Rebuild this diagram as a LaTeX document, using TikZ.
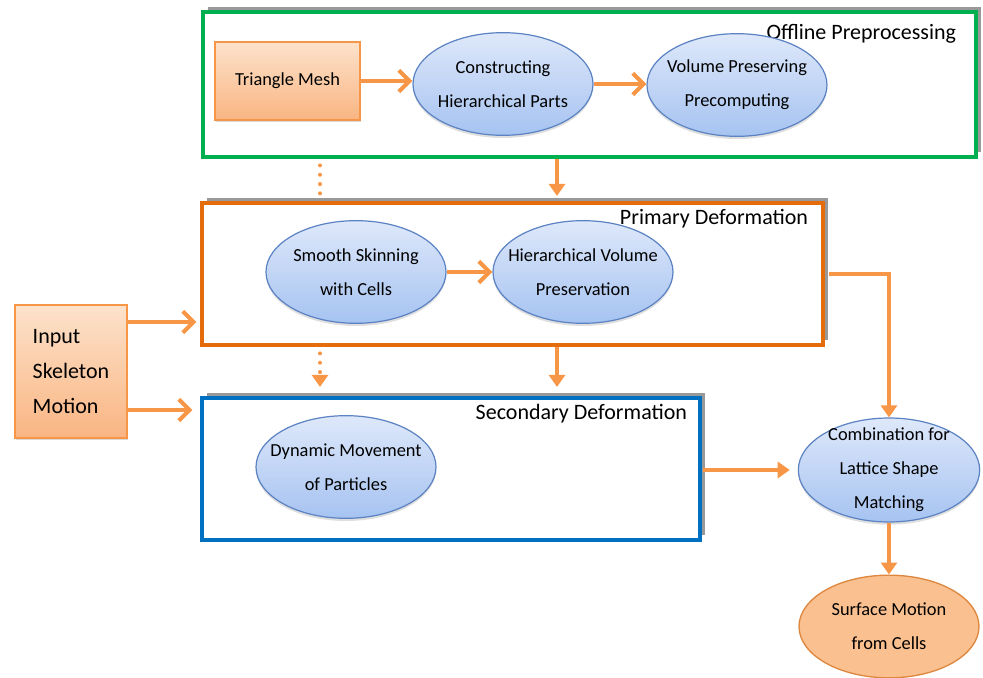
\documentclass[tikz,border=0pt]{standalone}
\usepackage{fontspec}
\setmainfont{Carlito}
\usetikzlibrary{arrows.meta,shapes.geometric,shadows}
\definecolor{flowor}{HTML}{F79646}
\definecolor{offgreen}{HTML}{00B050}
\definecolor{primor}{HTML}{E46C0A}
\definecolor{secblue}{HTML}{0070C0}
\definecolor{elltop}{HTML}{DEE8FA}
\definecolor{ellbot}{HTML}{A6C3F1}
\definecolor{ellrim}{HTML}{5B82C2}
\definecolor{rectop}{HTML}{FDE2CB}
\definecolor{recbot}{HTML}{F9B582}
\tikzset{
  flow/.style={x=0.75pt, y=-0.75pt, line width=3pt, color=flowor},
  stagebox/.style={rectangle, draw, line width=2.6pt, fill=white, inner sep=0pt,
    drop shadow={shadow xshift=3.6pt, shadow yshift=3.6pt, fill=black!40, opacity=1}},
  stagetitle/.style={font=\fontsize{16.5}{20}\selectfont, text=black, anchor=north east, inner sep=0pt},
  phase/.style={ellipse, draw=ellrim, line width=0.9pt, top color=elltop, bottom color=ellbot,
    minimum width=135pt, minimum height=77pt, inner sep=0pt,
    drop shadow={shadow xshift=0pt, shadow yshift=-2pt, opacity=0.25}},
  phasetext/.style={font=\fontsize{13.8}{25.5}\selectfont, text=black, align=center, inner sep=0pt},
  datbox/.style={rectangle, draw=flowor, line width=1.2pt, top color=rectop, bottom color=recbot,
    drop shadow={shadow xshift=1pt, shadow yshift=-1.5pt, opacity=0.3}},
  barb/.style={-{Straight Barb[length=8pt, width=16pt, line width=3pt]}},
  tri/.style={-{Triangle[length=9pt, width=12pt]}},
  dotline/.style={line cap=round, dash pattern=on 0pt off 7pt},
}
\begin{document}
\begin{tikzpicture}[flow]
  \useasboundingbox (0,0) rectangle (983,678);
  % the three stages
  \node[stagebox, draw=offgreen, minimum width=579.75pt, minimum height=108.75pt] (off) at (589.5,84.5) {};
  \node[stagebox, draw=primor, minimum width=465.75pt, minimum height=106.5pt] (prim) at (512.5,274) {};
  \node[stagebox, draw=secblue, minimum width=373.5pt, minimum height=106.5pt] (sec) at (451,469) {};
  \node[stagetitle] (offtitle) at (958,22) {Offline Preprocessing};
  \node[stagetitle] (primtitle) at (810,207) {Primary Deformation};
  \node[stagetitle] (sectitle) at (689,402) {Secondary Deformation};
  % offline preprocessing
  \node[datbox, minimum width=108.75pt, minimum height=58.5pt, font=\fontsize{13.8}{16}\selectfont, text=black] (mesh) at (287.5,81) {Triangle Mesh};
  \node[phase] (chp) at (503,84) {};
  \node[phasetext] at (chp) {Constructing\\Hierarchical Parts};
  \node[phase] (vpp) at (737,85) {};
  \node[phasetext] at (vpp) {Volume Preserving\\Precomputing};
  % primary deformation
  \node[phase] (ssc) at (356,272) {};
  \node[phasetext] at (ssc) {Smooth Skinning\\with Cells};
  \node[phase] (hvp) at (583,272) {};
  \node[phasetext] at (hvp) {Hierarchical Volume\\Preservation};
  % secondary deformation
  \node[phase] (dmp) at (346,467) {};
  \node[phasetext] at (dmp) {Dynamic Movement\\of Particles};
  % input and output
  \node[datbox, minimum width=84pt, minimum height=99.75pt, align=left, text=black,
    font=\fontsize{16.5}{26}\selectfont] (inp) at (71,371.5) {Input\\Skeleton\\Motion};
  \node[phase, minimum width=136pt, minimum height=78pt] (comb) at (889,470) {};
  \node[phasetext] at (comb) {Combination for\\Lattice Shape\\Matching};
  \node[ellipse, draw=flowor!90!black, line width=1pt, fill=flowor!60, minimum width=135pt,
    minimum height=77pt, inner sep=0pt] (surf) at (889,626.5) {};
  \node[phasetext] at (surf) {Surface Motion\\from Cells};
  % columns and rows of the connectors
  \coordinate (colA) at (320,0);
  \coordinate (colB) at (557,0);
  \coordinate (rowA) at (0,322);
  \coordinate (rowB) at (0,410);
  % connectors
  \draw[barb] (mesh.east) -- (mesh.east -| chp.west);
  \draw[barb] (chp.east) -- (chp.east -| vpp.west);
  \draw[barb] (ssc.east) -- (hvp.west);
  \draw[barb, shorten >=3pt] (inp.east |- rowA) -- (prim.west |- rowA);
  \draw[barb, shorten >=6pt] (inp.east |- rowB) -- (sec.west |- rowB);
  \draw[dotline, shorten <=5pt, shorten >=3pt] (off.south -| colA) -- (prim.north -| colA);
  \draw[tri, shorten >=4pt] (off.south -| colB) -- (prim.north -| colB);
  \draw[dotline, shorten <=5pt, shorten >=14pt] (prim.south -| colA) -- (sec.north -| colA);
  \draw[tri, shorten >=7pt] ([yshift=-1pt]prim.south -| colA) ++(0,33) -- (sec.north -| colA);
  \draw[tri, shorten >=7pt] (prim.south -| colB) -- (sec.north -| colB);
  \draw[tri] ([xshift=3pt]prim.east) -| (comb.north);
  \draw[tri, shorten <=1pt, shorten >=6pt] (sec.east |- comb.west) -- (comb.west);
  \draw[tri] (comb.south) -- (surf.north);
\end{tikzpicture}
\end{document}
